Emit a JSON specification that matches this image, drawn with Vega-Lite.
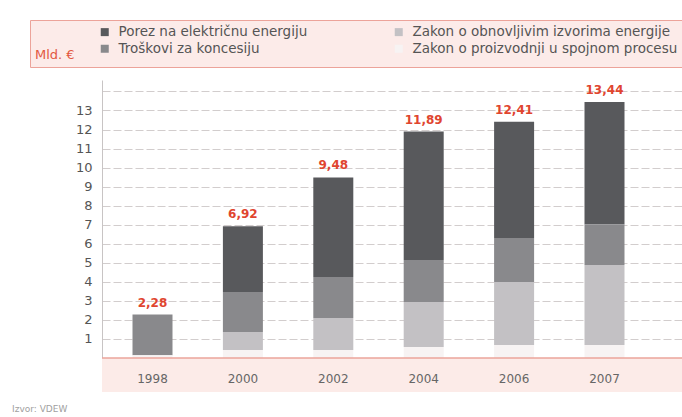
{
  "$schema": "https://vega.github.io/schema/vega-lite/v6.json",
  "width": 580,
  "height": 278,
  "autosize": {"type": "none"},
  "padding": {"left": 102, "top": 80, "right": 0, "bottom": 59},
  "background": "white",
  "config": {"view": {"stroke": null}, "font": "DejaVu Sans"},
  "title": {"text": "Izvor: VDEW", "orient": "bottom", "anchor": "start", "frame": "group", "dx": -90, "fontSize": 9, "color": "#a0a0a0", "fontWeight": "normal", "offset": 13},
  "datasets": {
    "dijelovi": [
      {"godina": "1998", "kategorija": "Porez na električnu energiju", "vrijednost": 0},
      {"godina": "1998", "kategorija": "Troškovi za koncesiju", "vrijednost": 2.13},
      {"godina": "1998", "kategorija": "Zakon o obnovljivim izvorima energije", "vrijednost": 0},
      {"godina": "1998", "kategorija": "Zakon o proizvodnji u spojnom procesu", "vrijednost": 0.15},
      {"godina": "2000", "kategorija": "Porez na električnu energiju", "vrijednost": 3.45},
      {"godina": "2000", "kategorija": "Troškovi za koncesiju", "vrijednost": 2.10},
      {"godina": "2000", "kategorija": "Zakon o obnovljivim izvorima energije", "vrijednost": 0.95},
      {"godina": "2000", "kategorija": "Zakon o proizvodnji u spojnom procesu", "vrijednost": 0.42},
      {"godina": "2002", "kategorija": "Porez na električnu energiju", "vrijednost": 5.23},
      {"godina": "2002", "kategorija": "Troškovi za koncesiju", "vrijednost": 2.15},
      {"godina": "2002", "kategorija": "Zakon o obnovljivim izvorima energije", "vrijednost": 1.68},
      {"godina": "2002", "kategorija": "Zakon o proizvodnji u spojnom procesu", "vrijednost": 0.42},
      {"godina": "2004", "kategorija": "Porez na električnu energiju", "vrijednost": 6.74},
      {"godina": "2004", "kategorija": "Troškovi za koncesiju", "vrijednost": 2.21},
      {"godina": "2004", "kategorija": "Zakon o obnovljivim izvorima energije", "vrijednost": 2.36},
      {"godina": "2004", "kategorija": "Zakon o proizvodnji u spojnom procesu", "vrijednost": 0.58},
      {"godina": "2006", "kategorija": "Porez na električnu energiju", "vrijednost": 6.11},
      {"godina": "2006", "kategorija": "Troškovi za koncesiju", "vrijednost": 2.31},
      {"godina": "2006", "kategorija": "Zakon o obnovljivim izvorima energije", "vrijednost": 3.31},
      {"godina": "2006", "kategorija": "Zakon o proizvodnji u spojnom procesu", "vrijednost": 0.68},
      {"godina": "2007", "kategorija": "Porez na električnu energiju", "vrijednost": 6.41},
      {"godina": "2007", "kategorija": "Troškovi za koncesiju", "vrijednost": 2.15},
      {"godina": "2007", "kategorija": "Zakon o obnovljivim izvorima energije", "vrijednost": 4.20},
      {"godina": "2007", "kategorija": "Zakon o proizvodnji u spojnom procesu", "vrijednost": 0.68}
    ],
    "ukupno": [
      {"godina": "1998", "ukupno": 2.28, "oznaka": "2,28"},
      {"godina": "2000", "ukupno": 6.92, "oznaka": "6,92"},
      {"godina": "2002", "ukupno": 9.48, "oznaka": "9,48"},
      {"godina": "2004", "ukupno": 11.89, "oznaka": "11,89"},
      {"godina": "2006", "ukupno": 12.41, "oznaka": "12,41"},
      {"godina": "2007", "ukupno": 13.44, "oznaka": "13,44"}
    ]
  },
  "layer": [
    {
      "data": {"values": [{}]},
      "mark": {"type": "rect", "color": "#fcebe8"},
      "encoding": {"y": {"datum": 0, "type": "quantitative"}, "y2": {"datum": -1.79}}
    },
    {
      "data": {"name": "dijelovi"},
      "mark": {"type": "bar"},
      "encoding": {
        "x": {
          "field": "godina", "type": "nominal", "title": null,
          "scale": {"paddingInner": 0.5575, "paddingOuter": 0.4867, "align": 0.3466},
          "axis": {"labelAngle": 0, "ticks": false, "domain": false, "zindex": 1, "labelPadding": 20, "labelBaseline": "middle", "labelFontSize": 12, "labelColor": "#666666", "grid": false}
        },
        "y": {
          "field": "vrijednost", "type": "quantitative", "stack": "zero", "title": null,
          "scale": {"domain": [0, 14.6], "nice": false},
          "axis": {"values": [1, 2, 3, 4, 5, 6, 7, 8, 9, 10, 11, 12, 13, 14], "tickCount": 20, "grid": true, "labelExpr": "datum.value <= 13 ? datum.label : ''", "labelOverlap": false, "ticks": false, "domainColor": "#c8c4c4", "labelPadding": 10, "labelFontSize": 13, "labelColor": "#555555", "gridColor": "#d2cdcd", "gridDash": [8, 3], "gridWidth": 1}
        },
        "color": {
          "field": "kategorija", "type": "nominal",
          "scale": {
            "domain": ["Porez na električnu energiju", "Troškovi za koncesiju", "Zakon o obnovljivim izvorima energije", "Zakon o proizvodnji u spojnom procesu"],
            "range": ["#58595c", "#89898c", "#c3c1c4", "#f7f3f3"]
          },
          "legend": {
            "values": ["Porez na električnu energiju", "Troškovi za koncesiju", "Zakon o obnovljivim izvorima energije", "Zakon o proizvodnji u spojnom procesu"],
            "title": ["", "Mld. €"], "titleOrient": "left", "titleAnchor": "start", "titleBaseline": "top",
            "titleColor": "#e2583f", "titleFontSize": 13, "titleFontWeight": "normal", "titleLineHeight": 24, "titlePadding": 23,
            "orient": "none", "legendX": -72, "legendY": -60,
            "columns": 2, "columnPadding": 84, "rowPadding": 2,
            "symbolType": "square", "symbolSize": 64, "symbolStrokeWidth": 0, "labelOffset": 7,
            "labelFontSize": 13.5, "labelColor": "#555555", "labelLimit": 500,
            "fillColor": "#fcebe9", "strokeColor": "#eca39a", "padding": 5
          }
        },
        "order": {"field": "kategorija", "sort": "descending"}
      }
    },
    {
      "data": {"name": "ukupno"},
      "mark": {"type": "text", "color": "#e0452f", "fontWeight": "bold", "fontSize": 12, "baseline": "middle", "dy": -12},
      "encoding": {
        "x": {"field": "godina", "type": "nominal", "title": null},
        "y": {"field": "ukupno", "type": "quantitative", "title": null},
        "text": {"field": "oznaka"}
      }
    },
    {
      "data": {"values": [{}]},
      "mark": {"type": "rule", "color": "#eba49b", "strokeWidth": 1.5},
      "encoding": {"y": {"datum": 0, "type": "quantitative"}}
    }
  ]
}
